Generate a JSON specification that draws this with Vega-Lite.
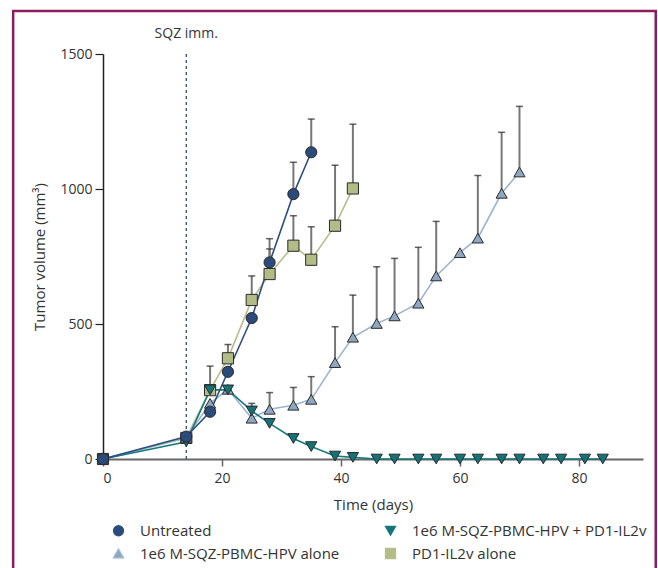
{
  "$schema": "https://vega.github.io/schema/vega-lite/v6.json",
  "autosize": "none",
  "width": 540,
  "height": 405,
  "padding": {"left": 103, "top": 54, "right": 15, "bottom": 109},
  "background": "white",
  "config": {
    "font": "Open Sans",
    "view": {"stroke": null},
    "axis": {"labelFont": "Open Sans", "titleFont": "Open Sans", "labelColor": "#333", "titleColor": "#333", "grid": false, "titleFontWeight": "normal"},
    "legend": {"labelFont": "Open Sans", "labelFontSize": 15, "labelColor": "#333"}
  },
  "datasets": {
    "one": [{}],
    "tumor": [
      {"series": "PD1-IL2v alone", "day": 0, "vol": 0},
      {"series": "PD1-IL2v alone", "day": 14, "vol": 78},
      {"series": "PD1-IL2v alone", "day": 18, "vol": 255},
      {"series": "PD1-IL2v alone", "day": 21, "vol": 373, "upper": 424},
      {"series": "PD1-IL2v alone", "day": 25, "vol": 589, "upper": 678},
      {"series": "PD1-IL2v alone", "day": 28, "vol": 685, "upper": 778},
      {"series": "PD1-IL2v alone", "day": 32, "vol": 790, "upper": 901},
      {"series": "PD1-IL2v alone", "day": 35, "vol": 738, "upper": 860},
      {"series": "PD1-IL2v alone", "day": 39, "vol": 864, "upper": 1088},
      {"series": "PD1-IL2v alone", "day": 42, "vol": 1002, "upper": 1240},
      {"series": "1e6 M-SQZ-PBMC-HPV alone", "day": 0, "vol": 0},
      {"series": "1e6 M-SQZ-PBMC-HPV alone", "day": 14, "vol": 80},
      {"series": "1e6 M-SQZ-PBMC-HPV alone", "day": 18, "vol": 206},
      {"series": "1e6 M-SQZ-PBMC-HPV alone", "day": 21, "vol": 258},
      {"series": "1e6 M-SQZ-PBMC-HPV alone", "day": 25, "vol": 151},
      {"series": "1e6 M-SQZ-PBMC-HPV alone", "day": 28, "vol": 184, "upper": 246},
      {"series": "1e6 M-SQZ-PBMC-HPV alone", "day": 32, "vol": 199, "upper": 265},
      {"series": "1e6 M-SQZ-PBMC-HPV alone", "day": 35, "vol": 221, "upper": 305},
      {"series": "1e6 M-SQZ-PBMC-HPV alone", "day": 39, "vol": 357, "upper": 490},
      {"series": "1e6 M-SQZ-PBMC-HPV alone", "day": 42, "vol": 451, "upper": 607},
      {"series": "1e6 M-SQZ-PBMC-HPV alone", "day": 46, "vol": 502, "upper": 712},
      {"series": "1e6 M-SQZ-PBMC-HPV alone", "day": 49, "vol": 530, "upper": 743},
      {"series": "1e6 M-SQZ-PBMC-HPV alone", "day": 53, "vol": 577, "upper": 784},
      {"series": "1e6 M-SQZ-PBMC-HPV alone", "day": 56, "vol": 678, "upper": 880},
      {"series": "1e6 M-SQZ-PBMC-HPV alone", "day": 60, "vol": 764},
      {"series": "1e6 M-SQZ-PBMC-HPV alone", "day": 63, "vol": 818, "upper": 1050},
      {"series": "1e6 M-SQZ-PBMC-HPV alone", "day": 67, "vol": 984, "upper": 1210},
      {"series": "1e6 M-SQZ-PBMC-HPV alone", "day": 70, "vol": 1063, "upper": 1306},
      {"series": "1e6 M-SQZ-PBMC-HPV + PD1-IL2v", "day": 0, "vol": 0},
      {"series": "1e6 M-SQZ-PBMC-HPV + PD1-IL2v", "day": 14, "vol": 64},
      {"series": "1e6 M-SQZ-PBMC-HPV + PD1-IL2v", "day": 18, "vol": 256, "upper": 344},
      {"series": "1e6 M-SQZ-PBMC-HPV + PD1-IL2v", "day": 21, "vol": 256},
      {"series": "1e6 M-SQZ-PBMC-HPV + PD1-IL2v", "day": 25, "vol": 178, "upper": 206},
      {"series": "1e6 M-SQZ-PBMC-HPV + PD1-IL2v", "day": 28, "vol": 132},
      {"series": "1e6 M-SQZ-PBMC-HPV + PD1-IL2v", "day": 32, "vol": 76},
      {"series": "1e6 M-SQZ-PBMC-HPV + PD1-IL2v", "day": 35, "vol": 46},
      {"series": "1e6 M-SQZ-PBMC-HPV + PD1-IL2v", "day": 39, "vol": 11},
      {"series": "1e6 M-SQZ-PBMC-HPV + PD1-IL2v", "day": 42, "vol": 6},
      {"series": "1e6 M-SQZ-PBMC-HPV + PD1-IL2v", "day": 46, "vol": 0},
      {"series": "1e6 M-SQZ-PBMC-HPV + PD1-IL2v", "day": 49, "vol": 0},
      {"series": "1e6 M-SQZ-PBMC-HPV + PD1-IL2v", "day": 53, "vol": 0},
      {"series": "1e6 M-SQZ-PBMC-HPV + PD1-IL2v", "day": 56, "vol": 0},
      {"series": "1e6 M-SQZ-PBMC-HPV + PD1-IL2v", "day": 60, "vol": 0},
      {"series": "1e6 M-SQZ-PBMC-HPV + PD1-IL2v", "day": 63, "vol": 0},
      {"series": "1e6 M-SQZ-PBMC-HPV + PD1-IL2v", "day": 67, "vol": 0},
      {"series": "1e6 M-SQZ-PBMC-HPV + PD1-IL2v", "day": 70, "vol": 0},
      {"series": "1e6 M-SQZ-PBMC-HPV + PD1-IL2v", "day": 74, "vol": 0},
      {"series": "1e6 M-SQZ-PBMC-HPV + PD1-IL2v", "day": 77, "vol": 0},
      {"series": "1e6 M-SQZ-PBMC-HPV + PD1-IL2v", "day": 81, "vol": 0},
      {"series": "1e6 M-SQZ-PBMC-HPV + PD1-IL2v", "day": 84, "vol": 0},
      {"series": "Untreated", "day": 0, "vol": 0},
      {"series": "Untreated", "day": 14, "vol": 83},
      {"series": "Untreated", "day": 18, "vol": 175},
      {"series": "Untreated", "day": 21, "vol": 323},
      {"series": "Untreated", "day": 25, "vol": 522},
      {"series": "Untreated", "day": 28, "vol": 728, "upper": 816},
      {"series": "Untreated", "day": 32, "vol": 981, "upper": 1099},
      {"series": "Untreated", "day": 35, "vol": 1136, "upper": 1259}
    ]
  },
  "data": {"name": "tumor"},
  "layer": [
    {
      "data": {"name": "one"},
      "mark": {"type": "rect", "fill": null, "stroke": "#8C1D5E", "strokeWidth": 2.5, "clip": false},
      "encoding": {
        "x": {"datum": -15.1},
        "x2": {"datum": 92.9},
        "y": {"datum": 1659},
        "y2": {"datum": -440}
      }
    },
    {
      "data": {"name": "one"},
      "mark": {"type": "rule", "strokeDash": [3, 3], "color": "#2D4F6E", "strokeWidth": 1.3},
      "encoding": {
        "x": {"datum": 14},
        "y": {"datum": 0},
        "y2": {"datum": 1500}
      }
    },
    {
      "data": {"name": "one"},
      "mark": {"type": "text", "dy": -20, "fontSize": 14, "font": "Open Sans", "fontWeight": "normal", "color": "#333"},
      "encoding": {
        "x": {"datum": 14},
        "y": {"datum": 1500},
        "text": {"value": "SQZ imm."}
      }
    },
    {
      "transform": [{"filter": "isValid(datum.upper)"}],
      "mark": {"type": "rule", "color": "#777", "strokeWidth": 2},
      "encoding": {
        "x": {"field": "day", "type": "quantitative"},
        "y": {"field": "vol", "type": "quantitative"},
        "y2": {"field": "upper"}
      }
    },
    {
      "transform": [{"filter": "isValid(datum.upper)"}],
      "mark": {"type": "tick", "orient": "horizontal", "color": "#222", "size": 7, "thickness": 1.5},
      "encoding": {
        "x": {"field": "day", "type": "quantitative"},
        "y": {"field": "upper", "type": "quantitative"}
      }
    },
    {
      "mark": {"type": "line", "strokeWidth": 1.6},
      "encoding": {
        "x": {"field": "day", "type": "quantitative"},
        "y": {"field": "vol", "type": "quantitative"},
        "stroke": {
          "field": "series", "type": "nominal",
          "scale": {
            "domain": ["Untreated", "1e6 M-SQZ-PBMC-HPV + PD1-IL2v", "1e6 M-SQZ-PBMC-HPV alone", "PD1-IL2v alone"],
            "range": ["#2E4F82", "#177A7F", "#9CB4CE", "#B5BE8C"]
          }
        }
      }
    },
    {
      "mark": {"type": "point", "size": 125, "stroke": "#2a2a2a", "strokeWidth": 1, "opacity": 1, "fillOpacity": 1},
      "encoding": {
        "x": {
          "field": "day", "type": "quantitative",
          "scale": {"domain": [0, 90.76], "nice": false, "zero": true},
          "axis": {"values": [0, 20, 40, 60, 80], "title": "Time (days)", "titleFontSize": 15, "titlePadding": 12, "labelFontSize": 14, "tickSize": 7, "labelPadding": 5, "domainColor": "#666", "domainWidth": 2, "tickColor": "#666", "tickWidth": 1.5}
        },
        "y": {
          "field": "vol", "type": "quantitative",
          "scale": {"domain": [0, 1500], "nice": false},
          "axis": {"values": [0, 500, 1000, 1500], "format": "d", "title": "Tumor volume (mm³)", "titleFontSize": 15, "titlePadding": 12, "labelFontSize": 14, "tickSize": 8, "labelPadding": 3, "domainColor": "#222", "domainWidth": 1.5, "tickColor": "#222", "tickWidth": 1.2}
        },
        "fill": {
          "field": "series", "type": "nominal",
          "scale": {
            "domain": ["Untreated", "1e6 M-SQZ-PBMC-HPV + PD1-IL2v", "1e6 M-SQZ-PBMC-HPV alone", "PD1-IL2v alone"],
            "range": ["#2A4B7C", "#127378", "#8FA7C1", "#B2BC86"]
          },
          "legend": {
            "title": null, "orient": "none", "direction": "horizontal", "legendX": 8, "legendY": 469, "columns": 2, "padding": 0,
            "columnPadding": 42, "rowPadding": 6, "symbolSize": 100, "labelOffset": 14, "labelLimit": 400,
            "symbolStrokeWidth": 1.3, "symbolOpacity": 1
          }
        },
        "shape": {
          "field": "series", "type": "nominal",
          "scale": {
            "domain": ["Untreated", "1e6 M-SQZ-PBMC-HPV + PD1-IL2v", "1e6 M-SQZ-PBMC-HPV alone", "PD1-IL2v alone"],
            "range": ["circle", "triangle-down", "triangle-up", "square"]
          }
        }
      }
    }
  ]
}
